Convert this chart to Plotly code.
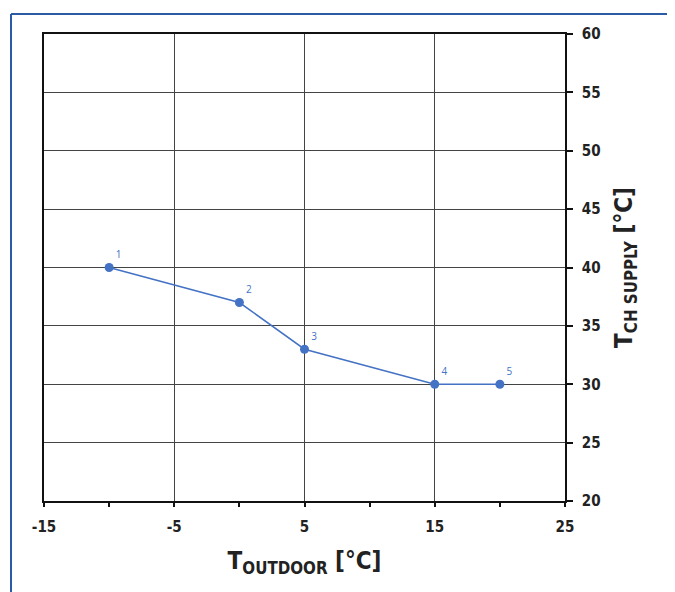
import plotly.graph_objects as go

t_outdoor = [-10, 0, 5, 15, 20]
t_supply = [40, 37, 33, 30, 30]
point_labels = ["1", "2", "3", "4", "5"]
x_ticks = [-15, -5, 5, 15, 25]
y_ticks = [20, 25, 30, 35, 40, 45, 50, 55, 60]

BLUE = "#4472C4"
FONT = "DejaVu Sans Condensed"
# page body has an 8px margin, so figure is sized to fit inside the window
W, H = 667, 584
ML, MT = 36, 26
pw, ph = 521, 467
MR, MB = W - ML - pw, H - MT - ph

fig = go.Figure()
fig.add_trace(go.Scatter(
    x=t_outdoor, y=t_supply, mode="lines+markers+text",
    text=point_labels, textposition="top right",
    textfont=dict(family="Open Sans", size=10, color=BLUE),
    line=dict(color=BLUE, width=1.5),
    marker=dict(color=BLUE, size=9),
    cliponaxis=False, showlegend=False,
))

def px_to_paper_x(px):
    return (px - ML) / pw

def px_to_paper_y(py):
    return 1 - (py - MT) / ph

frame = "#2B5BA5"
fig.add_shape(type="line", xref="paper", yref="paper",
              x0=px_to_paper_x(3), x1=px_to_paper_x(W + 5),
              y0=px_to_paper_y(6), y1=px_to_paper_y(6),
              line=dict(color=frame, width=2))
fig.add_shape(type="line", xref="paper", yref="paper",
              x0=px_to_paper_x(3), x1=px_to_paper_x(3),
              y0=px_to_paper_y(6), y1=px_to_paper_y(H + 5),
              line=dict(color=frame, width=2))

fig.update_layout(
    width=W, height=H,
    margin=dict(l=ML, r=MR, t=MT, b=MB),
    paper_bgcolor="white", plot_bgcolor="white",
    font=dict(family=FONT, color="#222222"),
    xaxis=dict(
        range=[-15, 25], tickmode="array", tickvals=x_ticks,
        ticktext=[f"<b>{v}</b>" for v in x_ticks],
        tickfont=dict(size=15, family=FONT, color="#222222"),
        ticks="outside", ticklen=4, tickwidth=2, tickcolor="#111111",
        ticklabelstandoff=7,
        minor=dict(dtick=5, tick0=-15, ticks="outside", ticklen=4, tickwidth=1.5,
                   tickcolor="#111111", showgrid=False),
        showgrid=True, gridcolor="#444444", gridwidth=1,
        showline=True, linecolor="#111111", linewidth=2, mirror=True,
        zeroline=False,
        title=dict(text="<b>T<sub>OUTDOOR</sub> [°C]</b>",
                   font=dict(size=24, family=FONT, color="#222222"), standoff=17),
    ),
    yaxis=dict(
        range=[20, 60], side="right", tickmode="array", tickvals=y_ticks,
        ticktext=[f"<b>{v}</b>" for v in y_ticks],
        tickfont=dict(size=15, family=FONT, color="#222222"),
        ticks="outside", ticklen=6, tickwidth=1.5, tickcolor="#111111",
        ticklabelstandoff=6,
        showgrid=True, gridcolor="#444444", gridwidth=1,
        showline=True, linecolor="#111111", linewidth=1.5, mirror=True,
        zeroline=False,
        title=dict(text="<b>T<sub>CH SUPPLY</sub> [°C]</b>",
                   font=dict(size=24, family=FONT, color="#222222"), standoff=16),
    ),
)

fig.write_html("out.html")
